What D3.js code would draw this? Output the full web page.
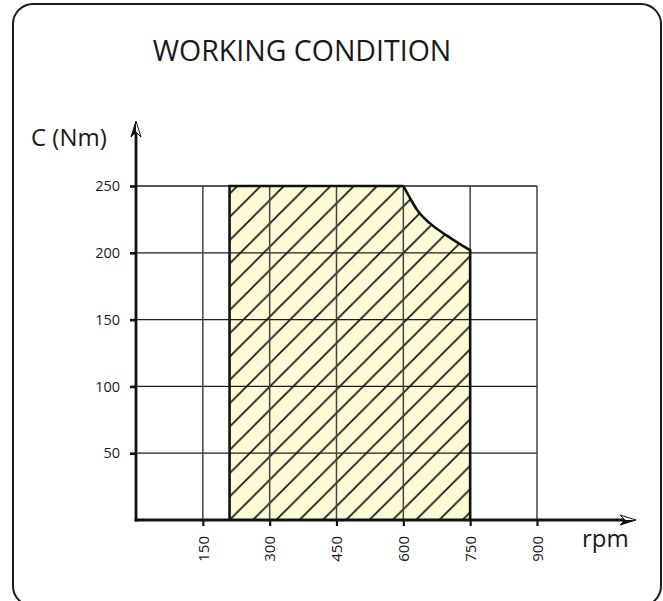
<!DOCTYPE html>
<html>
<head>
<meta charset="utf-8">
<script src="https://cdn.jsdelivr.net/npm/d3@7"></script>
<style>
  html, body { margin: 0; padding: 0; background: #fff; }
  svg { display: block; }
  text { font-family: "Open Sans", "Noto Sans", sans-serif; fill: #1a1a1a; }
</style>
</head>
<body>
<svg id="chart" width="663" height="601"></svg>
<script>
// ---- data ----
const xTicks = [150, 300, 450, 600, 750, 900];
const yTicks = [50, 100, 150, 200, 250];
// boundary of the working area (rpm, torque Nm)
const flatRpm = [210, 600];
const flatTorque = [250, 250];
const curveRpm = [600, 615, 630, 660, 697, 727, 750];
const curveTorque = [250, 241, 232.5, 222, 213, 206.5, 202];
const title = "WORKING CONDITION";
const yLabel = "C (Nm)";
const xLabel = "rpm";

// ---- scales ----
const x = d3.scaleLinear().domain([0, 900]).range([136, 537]);
const y = d3.scaleLinear().domain([0, 250]).range([520, 186]);

const svg = d3.select("#chart");

// frame
svg.append("rect")
  .attr("x", 13).attr("y", 4).attr("width", 648).attr("height", 602)
  .attr("rx", 20).attr("ry", 20)
  .attr("fill", "none").attr("stroke", "#1a1a1a").attr("stroke-width", 2);

// title
svg.append("text").attr("x", 302).attr("y", 61)
  .attr("text-anchor", "middle").attr("font-size", 28.5).text(title);

// hatch pattern
const defs = svg.append("defs");
const s = 23.3;
const pat = defs.append("pattern").attr("id", "hatch")
  .attr("patternUnits", "userSpaceOnUse")
  .attr("x", x(flatRpm[0])).attr("y", y(0))
  .attr("width", s).attr("height", s);
pat.append("rect").attr("width", s).attr("height", s).attr("fill", "#fdfbd6");
pat.append("path")
  .attr("d", `M0,${s} L${s},0 M-2,2 L2,-2 M${s-2},${s+2} L${s+2},${s-2}`)
  .attr("stroke", "#111").attr("stroke-width", 1.6);

// working area shape
const curveGen = d3.line().x((d, i) => x(curveRpm[i])).y((d, i) => y(curveTorque[i]))
  .curve(d3.curveMonotoneX);
const curveStr = curveGen(curveRpm);
const areaPath = `M${x(flatRpm[0])},${y(0)} L${x(flatRpm[0])},${y(flatTorque[0])} L${x(flatRpm[1])},${y(flatTorque[1])} L` +
  curveStr.slice(1) + ` L${x(curveRpm[curveRpm.length-1])},${y(0)} Z`;
svg.append("path").attr("d", areaPath).attr("fill", "url(#hatch)").attr("stroke", "none");

// grid
const grid = svg.append("g");
grid.selectAll("line.h").data(yTicks).join("line")
  .attr("x1", x(0)).attr("x2", x(900))
  .attr("y1", d => y(d)).attr("y2", d => y(d))
  .attr("stroke", "#1e1e1e").attr("stroke-width", 1.3);
grid.selectAll("line.v").data(xTicks).join("line")
  .attr("y1", y(0)).attr("y2", y(250))
  .attr("x1", d => x(d)).attr("x2", d => x(d))
  .attr("stroke", "#444").attr("stroke-width", 1.5);

// outline of working area (no bottom)
const outline = `M${x(flatRpm[0])},${y(0)} L${x(flatRpm[0])},${y(flatTorque[0])} L${x(flatRpm[1])},${y(flatTorque[1])} L` +
  curveStr.slice(1) + ` L${x(curveRpm[curveRpm.length-1])},${y(0)}`;
svg.append("path").attr("d", outline).attr("fill", "none")
  .attr("stroke", "#111").attr("stroke-width", 2.6).attr("stroke-linejoin", "miter");

// axes
const yAxis = svg.append("g").attr("transform", `translate(${x(0)},0)`)
  .call(d3.axisLeft(y).tickValues(yTicks).tickSize(6).tickPadding(10));
yAxis.select(".domain").remove();
yAxis.selectAll(".tick line").attr("stroke", "#111").attr("stroke-width", 2.6);
yAxis.selectAll(".tick text").attr("font-size", 14.5).attr("fill", "#1a1a1a")
  .style("font-family", '"Open Sans", sans-serif');

const xAxis = svg.append("g").attr("transform", `translate(0,${y(0)})`)
  .call(d3.axisBottom(x).tickValues(xTicks).tickSize(6).tickFormat(d3.format("d")));
xAxis.select(".domain").remove();
xAxis.selectAll(".tick line").attr("stroke", "#111").attr("stroke-width", 2.2);
xAxis.selectAll(".tick text")
  .attr("font-size", 15).attr("fill", "#1a1a1a")
  .style("font-family", '"Open Sans", sans-serif')
  .attr("text-anchor", "end").attr("x", 0).attr("y", 0).attr("dy", "0.35em")
  .attr("transform", "translate(0,16) rotate(-90)");

// axis lines with arrows
svg.append("line").attr("x1", x(0)).attr("x2", x(0)).attr("y1", y(0) + 1.5).attr("y2", 128)
  .attr("stroke", "#111").attr("stroke-width", 2.8);
svg.append("line").attr("x1", x(0) - 1.4).attr("x2", 628).attr("y1", y(0)).attr("y2", y(0))
  .attr("stroke", "#111").attr("stroke-width", 2.8);
const ax = x(0);
svg.append("path")
  .attr("d", `M${ax},121 L${ax+5},137 L${ax},132 L${ax-5},137 Z`)
  .attr("fill", "#fff").attr("stroke", "#111").attr("stroke-width", 1);
svg.append("path")
  .attr("d", `M${ax},121 L${ax},132 L${ax-5},137 Z`).attr("fill", "#111");
const ay = y(0);
svg.append("path")
  .attr("d", `M636,${ay} L620,${ay-5} L625,${ay} L620,${ay+5} Z`)
  .attr("fill", "#fff").attr("stroke", "#111").attr("stroke-width", 1);
svg.append("path")
  .attr("d", `M636,${ay} L625,${ay} L620,${ay+5} Z`).attr("fill", "#111");

// axis titles
svg.append("text").attr("x", 31).attr("y", 146).attr("font-size", 24).text(yLabel);
svg.append("text").attr("x", 582).attr("y", 547).attr("font-size", 24).text(xLabel);
</script>
</body>
</html>
